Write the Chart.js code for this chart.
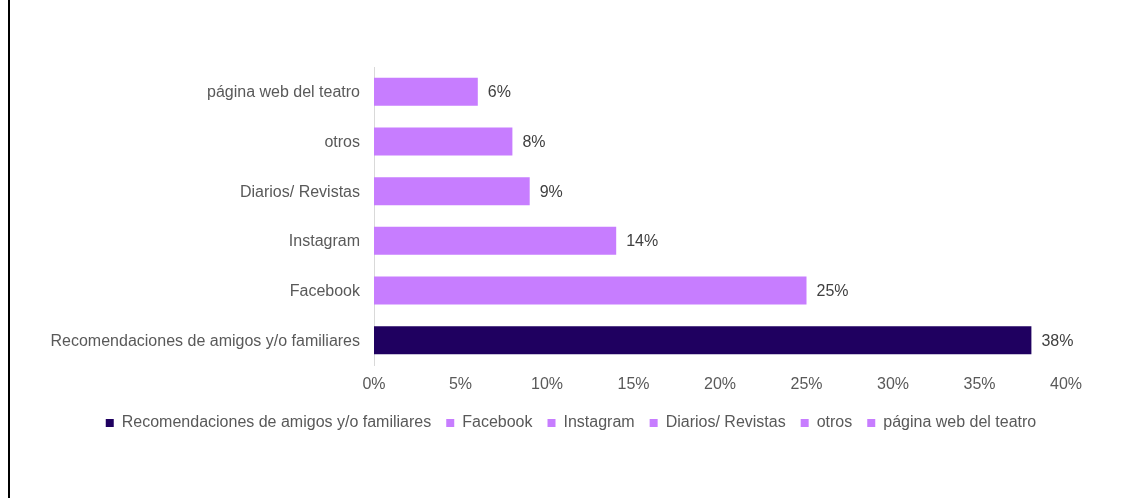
<!DOCTYPE html>
<html>
<head>
<meta charset="utf-8">
<script src="https://cdn.jsdelivr.net/npm/chart.js@4/dist/chart.umd.min.js"></script>
<style>
  html, body { margin: 0; padding: 0; background: #fff; }
  #wrap { position: relative; width: 1132px; height: 498px; overflow: hidden; }
  #frame { position: absolute; left: 8px; top: 0; width: 2px; height: 498px; background: #000; }
  canvas { display: block; }
</style>
</head>
<body>
<div id="wrap">
  <canvas id="c" width="1132" height="498"></canvas>
  <div id="frame"></div>
</div>
<script>
// Medios por los que el público se enteró de la obra (porcentaje)
const categories = [
  'Recomendaciones de amigos y/o familiares',
  'Facebook',
  'Instagram',
  'Diarios/ Revistas',
  'otros',
  'página web del teatro'
];
const values = [38, 25, 14, 9, 8, 6];
const barColors = ['#1F0060', '#C77DFF', '#C77DFF', '#C77DFF', '#C77DFF', '#C77DFF'];
const xTicks = [0, 5, 10, 15, 20, 25, 30, 35, 40];

const FONT = '"Liberation Sans", Arial, sans-serif';
const TEXT = '#595959';

// Writes the percentage to the right of each bar
const valueLabels = {
  id: 'valueLabels',
  afterDatasetsDraw(chart) {
    const ctx = chart.ctx;
    const meta = chart.getDatasetMeta(0);
    ctx.save();
    ctx.font = '16px ' + FONT;
    ctx.fillStyle = '#404040';
    ctx.textAlign = 'left';
    ctx.textBaseline = 'middle';
    meta.data.forEach((bar, i) => {
      ctx.fillText(values[i] + '%', bar.x + 10, bar.y + 1);
    });
    ctx.restore();
  }
};

// Centres the legend row under the whole figure rather than the padded box
const legendShift = {
  id: 'legendShift',
  afterLayout(chart) {
    const lg = chart.legend;
    if (lg) { lg.left += 38; lg.right += 38; }
  }
};

new Chart(document.getElementById('c'), {
  type: 'bar',
  data: {
    labels: categories,
    datasets: [{
      data: values,
      backgroundColor: barColors,
      borderWidth: 0,
      barPercentage: 0.565,
      categoryPercentage: 1
    }]
  },
  options: {
    indexAxis: 'y',
    responsive: false,
    devicePixelRatio: 1,
    animation: false,
    layout: { padding: { top: 67, left: 0, right: 66, bottom: 57 } },
    plugins: {
      tooltip: { enabled: false },
      legend: {
        position: 'bottom',
        labels: {
          boxWidth: 8,
          boxHeight: 8,
          padding: 15,
          color: TEXT,
          font: { family: FONT, size: 16 },
          generateLabels: () => categories.map((name, i) => ({
            text: name,
            fillStyle: barColors[i],
            strokeStyle: barColors[i],
            lineWidth: 0,
            hidden: false,
            index: i,
            fontColor: TEXT
          }))
        }
      }
    },
    scales: {
      x: {
        min: 0,
        max: 40,
        afterBuildTicks: s => { s.ticks = xTicks.map(v => ({ value: v })); },
        afterFit: s => { s.paddingLeft = 0; s.paddingRight = 0; s.height = 35; },
        grid: { display: false, drawTicks: false },
        border: { display: false },
        ticks: {
          padding: 10,
          color: TEXT,
          font: { family: FONT, size: 16 },
          callback: v => v + '%'
        }
      },
      y: {
        reverse: true,
        afterFit: s => { s.width = 374; },
        grid: { display: false, drawTicks: false },
        border: { display: true, color: '#D9D9D9', width: 1 },
        ticks: {
          padding: 14,
          labelOffset: 1,
          color: TEXT,
          font: { family: FONT, size: 16 }
        }
      }
    }
  },
  plugins: [valueLabels, legendShift]
});
</script>
</body>
</html>
